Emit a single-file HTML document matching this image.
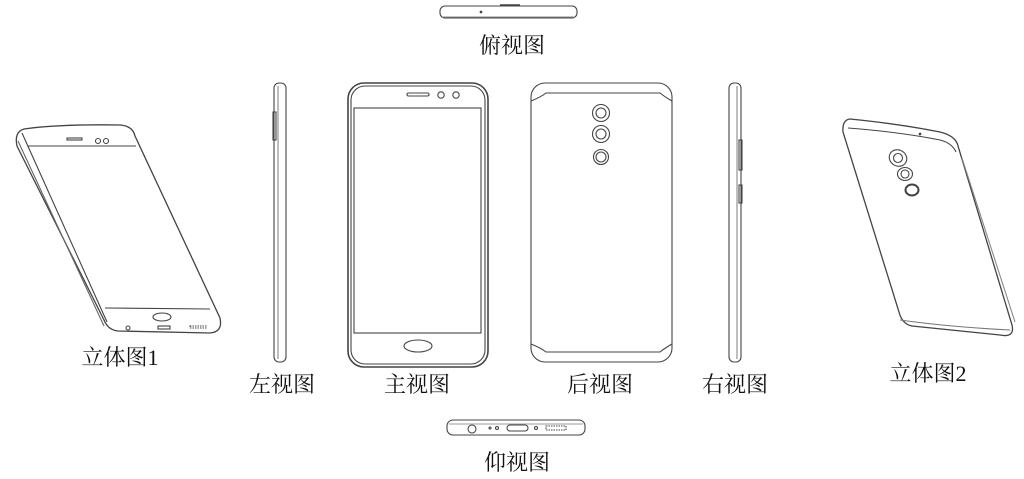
<!DOCTYPE html>
<html><head><meta charset="utf-8"><style>
html,body{margin:0;padding:0;background:#fff;}
svg{display:block}
text{font-family:"Liberation Serif","Noto Serif CJK SC",serif;font-size:22px;fill:#111;}
</style></head><body>
<svg width="1024" height="479" viewBox="0 0 1024 479" xmlns="http://www.w3.org/2000/svg">
<g fill="none" stroke="#444" stroke-width="1.1">
<rect x="440" y="6" width="137" height="12" rx="5"/>
<line x1="500" y1="5" x2="520" y2="5" stroke-width="1.5"/>
<line x1="442" y1="17" x2="575" y2="17" stroke="#888"/>
<circle cx="481" cy="12" r="0.8" fill="#444"/>
<rect x="447" y="420" width="138" height="15" rx="6"/>
<line x1="449" y1="424" x2="583" y2="424" stroke="#999"/>
<circle cx="472" cy="429" r="4"/>
<circle cx="490" cy="428" r="1"/><circle cx="497" cy="428" r="1.5"/>
<rect x="507" y="425" width="21" height="6" rx="3"/>
<circle cx="536" cy="428" r="1.5"/>
<rect x="546" y="426" width="20" height="4" stroke-dasharray="1.5 1"/>
<rect x="348" y="83" width="140" height="284" rx="16" stroke-width="1.6"/>
<rect x="351" y="86" width="134" height="278" rx="14"/>
<rect x="354" y="108" width="127" height="225"/>
<rect x="407" y="93" width="22" height="3" rx="1.5"/>
<circle cx="441" cy="95" r="3.2"/><circle cx="456" cy="95" r="3.2"/>
<ellipse cx="418" cy="346" rx="14" ry="6"/>
<rect x="531" y="83" width="141" height="279" rx="14"/>
<path d="M531 101 Q541 97 546 93 L660 93 Q665 97 672 101"/>
<path d="M531 344 Q541 348 546 352 L660 352 Q665 348 672 344"/>
<circle cx="601" cy="113" r="8.5"/><circle cx="601" cy="113" r="5"/>
<circle cx="601" cy="134" r="8.5"/><circle cx="601" cy="134" r="5"/>
<circle cx="601" cy="157" r="7.5"/><circle cx="601" cy="157" r="5"/>
<rect x="274" y="83" width="12" height="279" rx="5"/>
<line x1="278" y1="86" x2="278" y2="359" stroke="#888"/>
<rect x="273" y="112" width="3" height="28"/>
<rect x="729" y="83" width="12" height="279" rx="5"/>
<line x1="737" y1="86" x2="737" y2="359" stroke="#888"/>
<rect x="739" y="140" width="3" height="30"/>
<rect x="739" y="185" width="3" height="18"/>
<path d="M24 129 Q60 124 120 125 Q133 126 135 136 L220 318 Q223 332 210 333 L118 331 Q108 330 104 320 L17 146 Q14 132 24 129 Z" stroke-width="1.3"/>
<path d="M18 141 L104 326" stroke="#666"/>
<path d="M22 133 L107 322"/>
<line x1="28" y1="146" x2="136" y2="146"/>
<line x1="105" y1="308" x2="210" y2="309"/>
<rect x="67" y="138" width="15" height="2"/>
<circle cx="98" cy="141" r="2.5"/><circle cx="106" cy="141" r="2.5"/>
<ellipse cx="162" cy="317" rx="9" ry="4"/>
<circle cx="128" cy="328" r="2"/>
<rect x="158" y="326" width="12" height="3"/>
<rect x="190" y="326" width="16" height="2" stroke-dasharray="1.5 1"/>
<path d="M850 119 Q900 124 940 132 Q956 136 958 146 L1012 325 Q1015 338 1000 335 L912 326 Q902 324 899 312 L843 132 Q842 120 850 119 Z" stroke-width="1.3"/>
<path d="M848 128 Q900 132 940 140 Q952 143 956 152"/>
<path d="M900 320 Q950 327 1010 330" stroke="#777"/>
<line x1="962" y1="158" x2="1015" y2="322" stroke="#888"/>
<ellipse cx="898" cy="158" rx="9" ry="8" transform="rotate(30 898 158)"/>
<circle cx="898" cy="158" r="4.5"/>
<ellipse cx="905" cy="174" rx="7.5" ry="6.5"/>
<circle cx="905" cy="174" r="4"/>
<ellipse cx="912" cy="190" rx="6.5" ry="5.5" stroke-width="2"/>
<circle cx="920" cy="134" r="0.8" fill="#444"/>
</g>
<text x="512" y="53" text-anchor="middle">俯视图</text>
<text x="120" y="365" text-anchor="middle">立体图1</text>
<text x="282" y="392" text-anchor="middle">左视图</text>
<text x="417" y="392" text-anchor="middle">主视图</text>
<text x="600" y="392" text-anchor="middle">后视图</text>
<text x="735" y="392" text-anchor="middle">右视图</text>
<text x="928" y="381" text-anchor="middle">立体图2</text>
<text x="517" y="470" text-anchor="middle">仰视图</text>
</svg>
</body></html>
